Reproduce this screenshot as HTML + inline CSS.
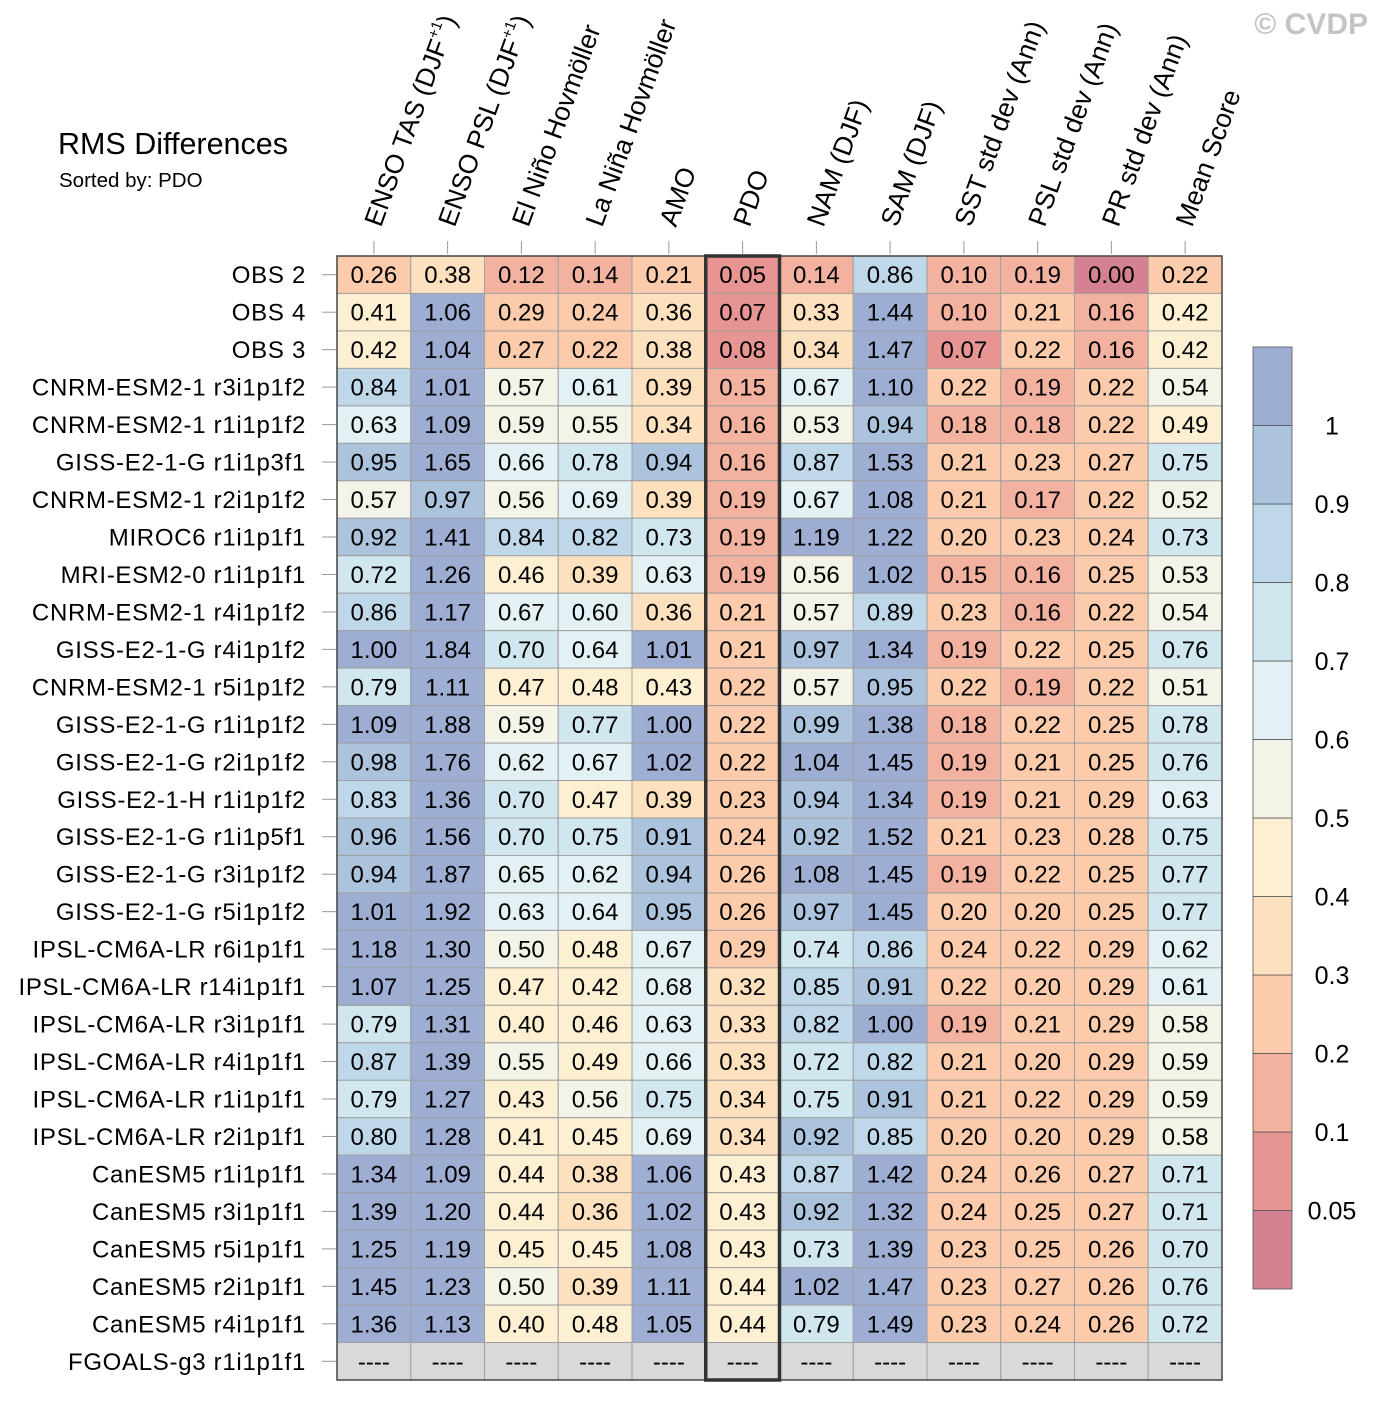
<!DOCTYPE html>
<html><head><meta charset="utf-8"><style>
html,body{margin:0;padding:0;background:#fff;}
svg{display:block;font-family:"Liberation Sans",Arial,sans-serif;}
</style></head><body>
<svg id="chart" width="1379" height="1401" viewBox="0 0 1379 1401">
<text x="58" y="154" font-size="30.5">RMS Differences</text>
<text x="59" y="187" font-size="20.5">Sorted by: PDO</text>
<text x="1368" y="34" font-size="30" font-weight="bold" fill="#c4c4c4" text-anchor="end">© CVDP</text>
<g id="heat"></g>
<g id="cbar"></g>
</svg>
<script>
const columns=["ENSO TAS (DJF+1)","ENSO PSL (DJF+1)","El Niño Hovmöller","La Niña Hovmöller","AMO","PDO","NAM (DJF)","SAM (DJF)","SST std dev (Ann)","PSL std dev (Ann)","PR std dev (Ann)","Mean Score"];
const rows=["OBS 2","OBS 4","OBS 3","CNRM-ESM2-1 r3i1p1f2","CNRM-ESM2-1 r1i1p1f2","GISS-E2-1-G r1i1p3f1","CNRM-ESM2-1 r2i1p1f2","MIROC6 r1i1p1f1","MRI-ESM2-0 r1i1p1f1","CNRM-ESM2-1 r4i1p1f2","GISS-E2-1-G r4i1p1f2","CNRM-ESM2-1 r5i1p1f2","GISS-E2-1-G r1i1p1f2","GISS-E2-1-G r2i1p1f2","GISS-E2-1-H r1i1p1f2","GISS-E2-1-G r1i1p5f1","GISS-E2-1-G r3i1p1f2","GISS-E2-1-G r5i1p1f2","IPSL-CM6A-LR r6i1p1f1","IPSL-CM6A-LR r14i1p1f1","IPSL-CM6A-LR r3i1p1f1","IPSL-CM6A-LR r4i1p1f1","IPSL-CM6A-LR r1i1p1f1","IPSL-CM6A-LR r2i1p1f1","CanESM5 r1i1p1f1","CanESM5 r3i1p1f1","CanESM5 r5i1p1f1","CanESM5 r2i1p1f1","CanESM5 r4i1p1f1","FGOALS-g3 r1i1p1f1"];
const values=[
[0.26,0.38,0.12,0.14,0.21,0.05,0.14,0.86,0.10,0.19,0.00,0.22],
[0.41,1.06,0.29,0.24,0.36,0.07,0.33,1.44,0.10,0.21,0.16,0.42],
[0.42,1.04,0.27,0.22,0.38,0.08,0.34,1.47,0.07,0.22,0.16,0.42],
[0.84,1.01,0.57,0.61,0.39,0.15,0.67,1.10,0.22,0.19,0.22,0.54],
[0.63,1.09,0.59,0.55,0.34,0.16,0.53,0.94,0.18,0.18,0.22,0.49],
[0.95,1.65,0.66,0.78,0.94,0.16,0.87,1.53,0.21,0.23,0.27,0.75],
[0.57,0.97,0.56,0.69,0.39,0.19,0.67,1.08,0.21,0.17,0.22,0.52],
[0.92,1.41,0.84,0.82,0.73,0.19,1.19,1.22,0.20,0.23,0.24,0.73],
[0.72,1.26,0.46,0.39,0.63,0.19,0.56,1.02,0.15,0.16,0.25,0.53],
[0.86,1.17,0.67,0.60,0.36,0.21,0.57,0.89,0.23,0.16,0.22,0.54],
[1.00,1.84,0.70,0.64,1.01,0.21,0.97,1.34,0.19,0.22,0.25,0.76],
[0.79,1.11,0.47,0.48,0.43,0.22,0.57,0.95,0.22,0.19,0.22,0.51],
[1.09,1.88,0.59,0.77,1.00,0.22,0.99,1.38,0.18,0.22,0.25,0.78],
[0.98,1.76,0.62,0.67,1.02,0.22,1.04,1.45,0.19,0.21,0.25,0.76],
[0.83,1.36,0.70,0.47,0.39,0.23,0.94,1.34,0.19,0.21,0.29,0.63],
[0.96,1.56,0.70,0.75,0.91,0.24,0.92,1.52,0.21,0.23,0.28,0.75],
[0.94,1.87,0.65,0.62,0.94,0.26,1.08,1.45,0.19,0.22,0.25,0.77],
[1.01,1.92,0.63,0.64,0.95,0.26,0.97,1.45,0.20,0.20,0.25,0.77],
[1.18,1.30,0.50,0.48,0.67,0.29,0.74,0.86,0.24,0.22,0.29,0.62],
[1.07,1.25,0.47,0.42,0.68,0.32,0.85,0.91,0.22,0.20,0.29,0.61],
[0.79,1.31,0.40,0.46,0.63,0.33,0.82,1.00,0.19,0.21,0.29,0.58],
[0.87,1.39,0.55,0.49,0.66,0.33,0.72,0.82,0.21,0.20,0.29,0.59],
[0.79,1.27,0.43,0.56,0.75,0.34,0.75,0.91,0.21,0.22,0.29,0.59],
[0.80,1.28,0.41,0.45,0.69,0.34,0.92,0.85,0.20,0.20,0.29,0.58],
[1.34,1.09,0.44,0.38,1.06,0.43,0.87,1.42,0.24,0.26,0.27,0.71],
[1.39,1.20,0.44,0.36,1.02,0.43,0.92,1.32,0.24,0.25,0.27,0.71],
[1.25,1.19,0.45,0.45,1.08,0.43,0.73,1.39,0.23,0.25,0.26,0.70],
[1.45,1.23,0.50,0.39,1.11,0.44,1.02,1.47,0.23,0.27,0.26,0.76],
[1.36,1.13,0.40,0.48,1.05,0.44,0.79,1.49,0.23,0.24,0.26,0.72],
[null,null,null,null,null,null,null,null,null,null,null,null]
];
const levels=[0.05,0.1,0.2,0.3,0.4,0.5,0.6,0.7,0.8,0.9,1];
const levelLabels=["0.05","0.1","0.2","0.3","0.4","0.5","0.6","0.7","0.8","0.9","1"];
const palette=["#d48292","#e79593","#f3b1a0","#fbcbab","#fde0bd","#fcefd2","#f3f3e8","#e3f1f5","#d1e7f0","#bfd8e9","#abc3dd","#9eadd2"];
const sortedColumn="PDO";

const NS="http://www.w3.org/2000/svg";
const X0=337,X1=1222,Y0=256,Y1=1380;
const cw=(X1-X0)/columns.length, rh=(Y1-Y0)/rows.length;
const xPos=i=>X0+i*cw, yPos=j=>Y0+j*rh;
function mk(tag,attrs,parent){const e=document.createElementNS(NS,tag);for(const k in attrs)e.setAttribute(k,attrs[k]);parent.appendChild(e);return e;}
function colorFor(v){if(v===null)return "#d9d9d9";let k=0;for(let i=0;i<levels.length;i++){if(v>=levels[i]-1e-9)k=i+1;}return palette[k];}
const heat=document.getElementById('heat');
for(let j=0;j<rows.length;j++){
  for(let i=0;i<columns.length;i++){
    const v=values[j][i];
    const r=mk('rect',{x:xPos(i),y:yPos(j),width:cw,height:rh,fill:colorFor(v),stroke:"#a0a0a0","stroke-width":1},heat);
    
    
    const t=mk('text',{x:xPos(i)+cw/2,y:yPos(j)+rh/2+8.5,"font-size":24,"text-anchor":"middle",fill:"#000"},heat);
    t.textContent=v===null?"----":v.toFixed(2);
    
    
  }
  const rt=mk('text',{x:306,y:yPos(j)+rh/2+8.5,"font-size":24,"letter-spacing":"0.7","text-anchor":"end"},heat);
  rt.textContent=rows[j];
  
  
  mk('line',{x1:322,x2:336,y1:yPos(j)+rh/2,y2:yPos(j)+rh/2,stroke:"#999","stroke-width":1},heat);
}
mk('rect',{x:X0,y:Y0,width:X1-X0,height:Y1-Y0,fill:"none",stroke:"#444","stroke-width":1.5},heat);
const si=columns.indexOf(sortedColumn);
const hb=mk('rect',{x:xPos(si),y:Y0,width:cw,height:Y1-Y0,fill:"none",stroke:"#333","stroke-width":3.5},heat);


for(let i=0;i<columns.length;i++){
  const cx=xPos(i)+cw/2;
  mk('line',{x1:cx,x2:cx,y1:241,y2:254,stroke:"#999","stroke-width":1},heat);
  const t=mk('text',{transform:`translate(${cx+7},228) rotate(-70)`,"font-size":26.5},heat);
  const name=columns[i];
  if(name.includes("DJF+1")){
    const base=name.replace("DJF+1)","DJF");
    const a=mk('tspan',{},t);a.textContent=base;
    const b=mk('tspan',{"font-size":15,dy:-12},t);b.textContent="+1";
    const c=mk('tspan',{dy:12},t);c.textContent=")";
  } else t.textContent=name;
  
  
}
const cb=document.getElementById('cbar');
const CX=1253,CW=39,CY0=347,CY1=1289,bh=(CY1-CY0)/palette.length;
for(let k=0;k<palette.length;k++){
  const y=CY1-(k+1)*bh;
  const r=mk('rect',{x:CX,y:y,width:CW,height:bh,fill:palette[k],stroke:"#555","stroke-width":0.8},cb);
  
  
}
for(let k=0;k<levels.length;k++){
  const y=CY1-(k+1)*bh;
  const t=mk('text',{x:1332,y:y+9,"font-size":25,"text-anchor":"middle"},cb);
  t.textContent=levelLabels[k];
  
  
}
</script>
</body></html>
